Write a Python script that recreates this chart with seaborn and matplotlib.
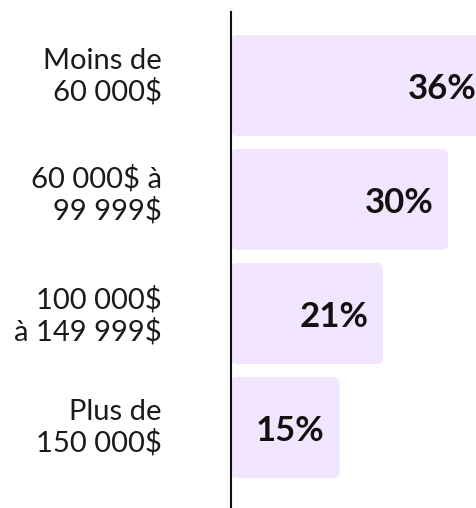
import matplotlib
matplotlib.use("Agg")
import matplotlib.pyplot as plt
import matplotlib.transforms as mtransforms
import seaborn as sns
import pandas as pd
from matplotlib.patches import FancyBboxPatch

categories = ["Moins de\n60 000$", "60 000$ à\n99 999$", "100 000$\nà 149 999$", "Plus de\n150 000$"]
values = [36, 30, 21, 15]
value_labels = ["36%", "30%", "21%", "15%"]

sns.set_theme(style="white")
plt.rcParams['font.family'] = ['Lato', 'DejaVu Sans']

df = pd.DataFrame({"cat": categories, "val": values})

fig = plt.figure(figsize=(4.77, 5.08), dpi=100)
ax = fig.add_axes([231/477, 0, 1 - 231/477, 1 - 12/508])

sns.barplot(data=df, x="val", y="cat", orient="h", color="#F2E6FE",
            width=0.886, saturation=1, ax=ax)

ax.set_xlim(0, 34.0)
ax.set_ylim(3.706, -0.645)

# rounded bars
px_x = (fig.get_figwidth() * fig.dpi * (1 - 231/477)) / 34.0
px_y = (fig.get_figheight() * fig.dpi * (1 - 12/508)) / (3.706 + 0.645)
rad_px = 6
patches = list(ax.patches)
for p in patches:
    x, y = p.get_x(), p.get_y()
    w, h = p.get_width(), p.get_height()
    fb = FancyBboxPatch((x, y), w, h,
                        boxstyle=f"round,pad=0,rounding_size={rad_px/px_x}",
                        mutation_aspect=(rad_px/px_y)/(rad_px/px_x),
                        facecolor=p.get_facecolor(), edgecolor="none", zorder=1)
    p.remove()
    ax.add_patch(fb)

for i, (v, lab) in enumerate(zip(values, value_labels)):
    ax.text(v - 6.8, i + 0.03, lab, ha="center", va="center", fontsize=25,
            fontweight="bold", color="#111111", zorder=3)

# category labels (right-aligned, left of the axis line)
label_dy_px = [9, 5, -2, 0]
trans = mtransforms.blended_transform_factory(ax.transAxes, ax.transData)
for i, (cat, dy) in enumerate(zip(categories, label_dy_px)):
    off = mtransforms.ScaledTranslation(-69 / 100, dy / 100, fig.dpi_scale_trans)
    ax.text(0, i, cat, transform=trans + off, ha="right", va="center",
            multialignment="right", fontsize=21, color="#1a1a1a",
            linespacing=1.2, clip_on=False)

ax.set_xlabel("")
ax.set_ylabel("")
ax.set_xticks([])
ax.set_yticks([])
for s in ["top", "right", "bottom"]:
    ax.spines[s].set_visible(False)
ax.spines["left"].set_color("#111111")
ax.spines["left"].set_linewidth(1.5)
ax.spines["left"].set_zorder(5)

fig.savefig("out.png", dpi=100)
